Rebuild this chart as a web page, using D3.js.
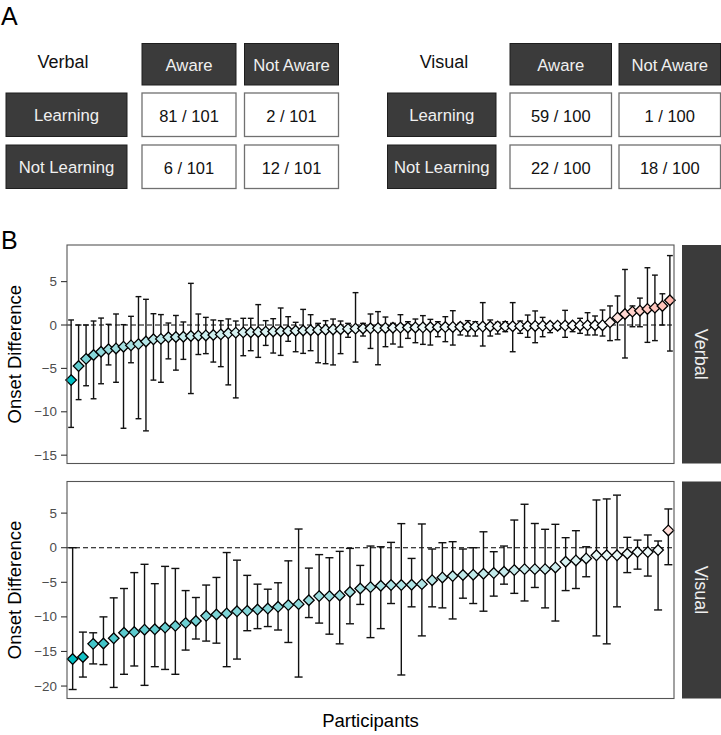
<!DOCTYPE html>
<html>
<head>
<meta charset="utf-8">
<script src="https://cdn.jsdelivr.net/npm/d3@7"></script>
<style>
  html, body { margin: 0; padding: 0; background: #fff; }
  svg { display: block; font-family: "Liberation Sans", Arial, Helvetica, sans-serif; }
</style>
</head>
<body>
<svg id="chart" width="721" height="735"></svg>
<script>
// ---------------- DATA ----------------
const tableRows = ["Learning", "Not Learning"];
const tableCols = ["Aware", "Not Aware"];
const verbalCounts = [[81, 2], [6, 12]];
const verbalTotal = 101;
const visualCounts = [[59, 1], [22, 18]];
const visualTotal = 100;

const verbalMean = [-6.35, -4.73, -3.9, -3.46, -3.08, -2.8, -2.7, -2.5, -2.35, -2.2, -1.9, -1.65, -1.6, -1.42, -1.38, -1.35, -1.27, -1.23, -1.2, -1.15, -1.08, -0.96, -0.88,
  -0.85, -0.83, -0.8, -0.77, -0.74, -0.72, -0.69, -0.66, -0.63, -0.6, -0.57, -0.54, -0.51, -0.48, -0.45, -0.42, -0.4, -0.38, -0.36, -0.34, -0.32, -0.3, -0.29, -0.28, -0.27, -0.26, -0.25, -0.24, -0.22, -0.21, -0.2,
  -0.19, -0.18, -0.17, -0.16, -0.15, -0.14, -0.13, -0.12, -0.11, -0.1, -0.09, -0.08, -0.07, -0.06, -0.05, -0.04, -0.03, -0.02,
  0.3, 0.85, 1.27, 1.54, 1.65, 1.85, 2.0, 2.2, 2.85];
const verbalLow = [-11.8, -8.6, -7.0, -8.5, -6.77, -4.6, -6.6, -11.9, -4.35, -10.8, -12.2, -6.35, -6.6, -3.9, -5.2, -3.96, -7.9, -3.4, -3.3, -4.27, -4.8, -6.9, -8.4,
  -3.54, -2.96, -3.73, -2.35, -3.23, -3.5, -1.88, -3.08, -3.27, -2.96, -4.35, -4.46, -4.6, -3.3, -1.42, -4.27, -1.27, -2.7, -4.58, -2.5, -2.19, -2.54, -1.54, -2.04, -2.23, -2.31, -1.35, -1.92, -2.31, -1.15, -1.27,
  -1.27, -2.42, -1.27, -1.04, -0.77, -3.08, -0.96, -1.42, -2.04, -1.35, -0.88, -0.5, -1.42, -0.77, -0.96, -1.15, -1.15, -1.27,
  -1.8, -1.7, -3.8, -0.2, -0.2, -2.0, -1.8, 0.0, -3.0];
const verbalHigh = [0.58, 0.0, 0.0, 0.46, 0.8, 0.08, 1.27, 0.04, 1.0, 3.27, 2.96, 1.3, 1.2, 0.23, 1.1, 0.35, 4.8, 1.27, 0.88, 0.58, 0.5, 0.7, 0.46,
  0.77, 0.77, 2.35, 0.5, 0.73, 1.96, 0.96, 0.31, 1.8, 1.19, 0.19, 0.5, 0.69, 0.46, 0.19, 3.73, 0.19, 1.27, 1.54, 0.92, 0.19, 1.19, 0.38, 0.69, 1.08, 0.65, 0.38, 0.96, 1.65, 0.19, 0.5,
  0.38, 2.58, 0.58, 0.31, 0.38, 2.58, 0.46, 1.15, 1.62, 0.88, 0.19, 0.08, 1.69, 0.19, 0.77, 1.42, 1.04, 1.73,
  2.2, 3.35, 6.4, 2.2, 3.1, 6.6, 5.75, 3.6, 8.0];

const visualMean = [-16.1, -15.8, -13.9, -13.85, -13.1, -12.3, -12.2, -11.85, -11.8, -11.55, -11.3, -10.9, -10.6, -9.85, -9.66, -9.5, -9.2, -9.13, -8.94, -8.8,
  -8.55, -8.3, -8.16, -7.6, -7.0, -7.0, -6.9, -6.4, -5.9, -5.7, -5.5, -5.4, -5.4, -5.36, -5.27, -4.7, -4.3, -4.1, -3.95, -3.9,
  -3.77, -3.67, -3.48, -3.24, -3.1, -3.1, -3.1, -2.85, -2.03, -1.84, -1.55, -1.1, -1.1, -1.1, -0.87, -0.63, -0.63, -0.34, 2.5];
const visualLow = [-20.5, -18.7, -16.8, -16.9, -20.2, -18.3, -17.1, -19.9, -17.2, -17.6, -18.3, -14.8, -13.2, -13.5, -13.8, -17.2, -16.1, -12.0, -11.7, -11.4,
  -11.9, -13.7, -18.7, -10.1, -10.9, -12.5, -13.9, -11.0, -8.2, -13.0, -11.7, -8.07, -18.4, -8.55, -12.75, -8.55, -8.7, -10.3, -7.3, -8.07,
  -9.18, -7.0, -5.27, -6.6, -7.7, -5.75, -8.7, -10.6, -6.2, -5.9, -4.2, -12.75, -13.9, -8.55, -3.6, -3.1, -4.1, -9.0, -2.46];
const visualHigh = [0.0, -12.2, -12.3, -10.0, -7.25, -5.9, -3.6, -2.4, -5.2, -2.7, -3.0, -6.2, -7.2, -5.4, -4.3, -0.7, -1.8, -4.0, -5.27, -6.0,
  -5.07, -1.9, 2.7, -2.95, -1.0, -1.45, -0.53, -0.1, -2.56, 0.24, 0.14, 0.77, 3.48, -1.55, 3.43, -0.19, 0.72, 0.87, -0.19, 0.0,
  2.3, -0.58, 0.24, 4.0, 6.28, 3.5, 2.66, 3.38, 1.45, 2.46, 0.14, 6.9, 7.05, 7.6, 1.5, 1.1, 1.84, 0.97, 5.6];

const verbalTicks = [5, 0, -5, -10, -15];
const visualTicks = [5, 0, -5, -10, -15, -20];
const verbalDomain = [-15.96, 9.22];
const visualDomain = [-21.8, 9.57];

// ---------------- DRAW ----------------
const svg = d3.select("#chart");
const DARK = "#3b3b3b";
const fmt = v => (v < 0 ? "\u2212" + Math.abs(v) : String(v));

// Panel labels
svg.append("text").attr("x", 1).attr("y", 25).attr("font-size", 25).attr("fill", "#000").text("A");
svg.append("text").attr("x", 1).attr("y", 249).attr("font-size", 25).attr("fill", "#000").text("B");

// Tables
function drawTable(cfg, counts, total) {
  const g = svg.append("g");
  g.append("text").attr("x", cfg.titleX).attr("y", 62).attr("text-anchor", "middle")
    .attr("dominant-baseline", "central").attr("font-size", 18).attr("fill", "#111").text(cfg.title);
  tableCols.forEach((c, j) => {
    g.append("rect").attr("x", cfg.colX[j]).attr("y", cfg.headY).attr("width", cfg.colW).attr("height", cfg.headH)
      .attr("fill", DARK).attr("stroke", "#1e1e1e").attr("stroke-width", 1);
    g.append("text").attr("x", cfg.colX[j] + cfg.colW / 2).attr("y", cfg.headY + cfg.headH / 2 + 1)
      .attr("text-anchor", "middle").attr("dominant-baseline", "central").attr("font-size", 16.7)
      .attr("fill", "#f0f0f0").text(c);
  });
  tableRows.forEach((r, i) => {
    g.append("rect").attr("x", cfg.rowX).attr("y", cfg.rowY[i]).attr("width", cfg.rowW).attr("height", cfg.rowH)
      .attr("fill", DARK).attr("stroke", "#1e1e1e").attr("stroke-width", 1);
    g.append("text").attr("x", cfg.rowX + cfg.rowW / 2).attr("y", cfg.rowY[i] + cfg.rowH / 2 + 1)
      .attr("text-anchor", "middle").attr("dominant-baseline", "central").attr("font-size", 16.7)
      .attr("fill", "#f0f0f0").text(r);
    tableCols.forEach((c, j) => {
      g.append("rect").attr("x", cfg.colX[j]).attr("y", cfg.rowY[i]).attr("width", cfg.colW).attr("height", cfg.rowH)
        .attr("fill", "#fff").attr("stroke", "#707070").attr("stroke-width", 1.3);
      g.append("text").attr("x", cfg.colX[j] + cfg.colW / 2).attr("y", cfg.rowY[i] + cfg.rowH / 2 + 1)
        .attr("text-anchor", "middle").attr("dominant-baseline", "central").attr("font-size", 16.5)
        .attr("fill", "#111").text(counts[i][j] + " / " + total);
    });
  });
}
drawTable({ title: "Verbal", titleX: 63, rowX: 6, rowW: 121, colX: [142, 244.5], colW: 94, headY: 43.5, headH: 41.5, rowY: [93, 145], rowH: 43.5 }, verbalCounts, verbalTotal);
drawTable({ title: "Visual", titleX: 444, rowX: 387.5, rowW: 108.5, colX: [510, 619], colW: 101.5, headY: 43.5, headH: 41.5, rowY: [93, 145], rowH: 43.5 }, visualCounts, visualTotal);

// Facet panels
const panelX0 = 67, panelX1 = 674;
const facets = [
  { name: "Verbal", mean: verbalMean, low: verbalLow, high: verbalHigh, domain: verbalDomain, ticks: verbalTicks, top: 245, bottom: 463.5 },
  { name: "Visual", mean: visualMean, low: visualLow, high: visualHigh, domain: visualDomain, ticks: visualTicks, top: 481.5, bottom: 698.5 }
];

const teal = d3.interpolateLab("#ffffff", "#00BFC4");
const salmon = d3.interpolateLab("#ffffff", "#F8766D");

facets.forEach(f => {
  const n = f.mean.length;
  const idx = d3.range(n);
  const x = d3.scalePoint().domain(idx).range([panelX0, panelX1]).padding(0.55);
  const y = d3.scaleLinear().domain(f.domain).range([f.bottom, f.top]);
  const step = x.step();
  const maxAbs = d3.max(f.mean, v => Math.abs(v));
  const tOf = v => Math.pow(Math.min(1, Math.abs(v) / maxAbs), 0.75);
  const fillOf = v => v < 0 ? teal(tOf(v)) : salmon(tOf(v));

  const g = svg.append("g");
  g.append("rect").attr("x", panelX0).attr("y", f.top).attr("width", panelX1 - panelX0).attr("height", f.bottom - f.top)
    .attr("fill", "#fff");

  // zero reference
  g.append("line").attr("x1", panelX0).attr("x2", panelX1).attr("y1", y(0)).attr("y2", y(0))
    .attr("stroke", "#000").attr("stroke-width", 1.1).attr("stroke-dasharray", "5,3");

  // error bars
  const capW = step * 0.78;
  const eb = g.append("g").attr("stroke", "#111").attr("stroke-width", 1.4).attr("fill", "none");
  idx.forEach(i => {
    const cx = x(i);
    eb.append("line").attr("x1", cx).attr("x2", cx).attr("y1", y(f.low[i])).attr("y2", y(f.high[i]));
    eb.append("line").attr("x1", cx - capW / 2).attr("x2", cx + capW / 2).attr("y1", y(f.low[i])).attr("y2", y(f.low[i]));
    eb.append("line").attr("x1", cx - capW / 2).attr("x2", cx + capW / 2).attr("y1", y(f.high[i])).attr("y2", y(f.high[i]));
  });

  // diamonds
  const r = 5.3;
  g.append("g").selectAll("path").data(idx).join("path")
    .attr("d", i => {
      const cx = x(i), cy = y(f.mean[i]);
      return `M${cx},${cy - r}L${cx + r},${cy}L${cx},${cy + r}L${cx - r},${cy}Z`;
    })
    .attr("fill", i => fillOf(f.mean[i]))
    .attr("stroke", "#000").attr("stroke-width", 1.3).attr("stroke-linejoin", "miter");

  // border
  g.append("rect").attr("x", panelX0).attr("y", f.top).attr("width", panelX1 - panelX0).attr("height", f.bottom - f.top)
    .attr("fill", "none").attr("stroke", "#555").attr("stroke-width", 1.1);

  // y axis ticks
  f.ticks.forEach(t => {
    g.append("line").attr("x1", panelX0 - 6).attr("x2", panelX0).attr("y1", y(t)).attr("y2", y(t))
      .attr("stroke", "#333").attr("stroke-width", 1.1);
    g.append("text").attr("x", panelX0 - 10).attr("y", y(t)).attr("text-anchor", "end")
      .attr("dominant-baseline", "central").attr("font-size", 13.4).attr("fill", "#4d4d4d").text(fmt(t));
  });

  // y title
  const cy = (f.top + f.bottom) / 2;
  g.append("text").attr("transform", `translate(14,${cy}) rotate(-90)`).attr("text-anchor", "middle")
    .attr("dominant-baseline", "central").attr("font-size", 18.5).attr("fill", "#000").text("Onset Difference");

  // strip
  g.append("rect").attr("x", 682).attr("y", f.top).attr("width", 40).attr("height", f.bottom - f.top).attr("fill", DARK);
  g.append("text").attr("transform", `translate(701,${cy}) rotate(90)`).attr("text-anchor", "middle")
    .attr("dominant-baseline", "central").attr("font-size", 18).attr("fill", "#eeeeee").text(f.name);
});

// x title
svg.append("text").attr("x", (panelX0 + panelX1) / 2).attr("y", 720).attr("text-anchor", "middle")
  .attr("dominant-baseline", "central").attr("font-size", 18.5).attr("fill", "#000").text("Participants");
</script>
</body>
</html>
